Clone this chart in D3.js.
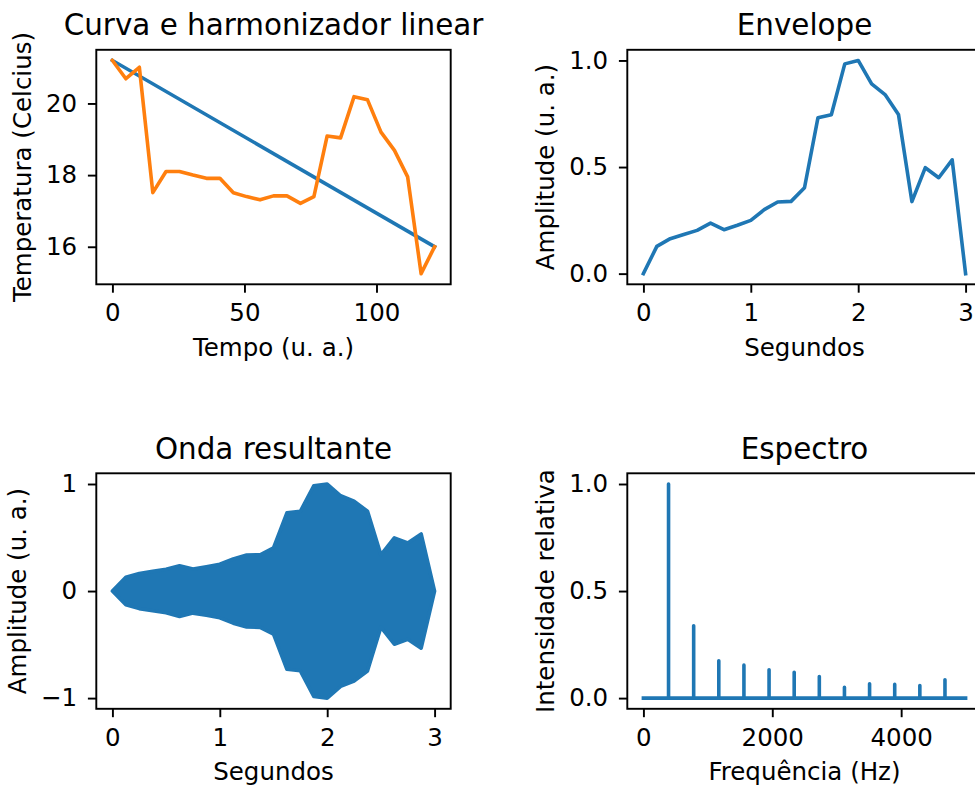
<!DOCTYPE html>
<html><head><meta charset="utf-8">
<script src="https://cdn.jsdelivr.net/npm/d3@7"></script>
<style>html,body{margin:0;padding:0;background:#fff;overflow:hidden}</style>
</head><body>
<svg id="c" width="975" height="787" xmlns="http://www.w3.org/2000/svg"></svg>
<script>
// ---------- data ----------
const tempo = [0, 5.1, 10.2, 15.3, 20.3, 25.4, 30.5, 35.6, 40.7, 45.8, 50.8, 55.9, 61.0, 66.1, 71.2, 76.3, 81.3, 86.4, 91.5, 96.6, 101.7, 106.8, 111.8, 116.9, 122.0];
const temperatura = [21.2, 20.69, 21.01, 17.51, 18.1, 18.1, 18.0, 17.91, 17.91, 17.51, 17.4, 17.31, 17.42, 17.42, 17.21, 17.4, 19.09, 19.04, 20.19, 20.1, 19.2, 18.69, 17.95, 15.25, 16.0];
const ajusteTempo = [0, 122];
const ajusteTemp = [21.2, 16.0];

const segundos = [0, 0.125, 0.25, 0.375, 0.5, 0.625, 0.75, 0.875, 1.0, 1.125, 1.25, 1.375, 1.5, 1.625, 1.75, 1.875, 2.0, 2.125, 2.25, 2.375, 2.5, 2.625, 2.75, 2.875, 3.0];
const envelope = [0, 0.128, 0.164, 0.184, 0.203, 0.237, 0.206, 0.227, 0.25, 0.30, 0.336, 0.339, 0.403, 0.731, 0.745, 0.984, 1.0, 0.89, 0.84, 0.747, 0.338, 0.497, 0.45, 0.534, 0];

const freqPicos = [390, 780, 1170, 1560, 1950, 2340, 2730, 3120, 3510, 3900, 4290, 4680];
const intensPicos = [1.0, 0.338, 0.174, 0.154, 0.132, 0.121, 0.101, 0.051, 0.067, 0.064, 0.059, 0.086];
const freqLimites = [0, 5000];

const ticksTempo = [0, 50, 100];
const ticksTemp = [16, 18, 20];
const ticksSeg = [0, 1, 2, 3];
const ticksAmp = [0, 0.5, 1.0];
const ticksOnda = [-1, 0, 1];
const ticksFreq = [0, 2000, 4000];
const ticksInt = [0, 0.5, 1.0];

// ---------- style ----------
const BLUE = "#1f77b4", ORANGE = "#ff7f0e";
const FONT = "DejaVu Sans";
const S = 2.4; // px per pt
const LW = 1.5 * S, SPINE = 0.8 * S, TICK = 3.5 * S;
const FS = 24.5, TFS = 29.4;

const svg = d3.select("#c");
svg.append("rect").attr("width", 975).attr("height", 787).attr("fill", "#fff");

function pad(lo, hi) { const d = (hi - lo) * 0.05; return [lo - d, hi + d]; }

function panel(r, xd, yd, xt, yt, xf, yf, title, xlabel, ylabel, draw) {
  const g = svg.append("g");
  const x = d3.scaleLinear().domain(xd).range([r.x, r.x + r.w]);
  const y = d3.scaleLinear().domain(yd).range([r.y + r.h, r.y]);
  const clipId = "clip" + Math.random().toString(36).slice(2);
  svg.append("clipPath").attr("id", clipId).append("rect")
    .attr("x", r.x).attr("y", r.y).attr("width", r.w).attr("height", r.h);
  const dg = g.append("g").attr("clip-path", `url(#${clipId})`);
  draw(dg, x, y);
  // spines
  g.append("rect").attr("x", r.x).attr("y", r.y).attr("width", r.w).attr("height", r.h)
    .attr("fill", "none").attr("stroke", "#000").attr("stroke-width", SPINE);
  // axes
  const ax = g.append("g").attr("transform", `translate(0,${r.y + r.h})`)
    .call(d3.axisBottom(x).tickValues(xt).tickFormat(xf).tickSize(TICK).tickPadding(11.2));
  const ay = g.append("g").attr("transform", `translate(${r.x},0)`)
    .call(d3.axisLeft(y).tickValues(yt).tickFormat(yf).tickSize(TICK).tickPadding(10.7));
  [ax, ay].forEach(a => {
    a.select(".domain").remove();
    a.attr("font-family", FONT).attr("font-size", FS);
    a.selectAll("line").attr("stroke", "#000").attr("stroke-width", SPINE);
    a.selectAll("text").attr("fill", "#000");
  });
  // title
  g.append("text").attr("x", r.x + r.w / 2).attr("y", r.y - 6 * S)
    .attr("text-anchor", "middle").attr("font-family", FONT).attr("font-size", TFS)
    .text(title);
  // x label
  g.append("text").attr("x", r.x + r.w / 2).attr("y", r.y + r.h + 71.5)
    .attr("text-anchor", "middle").attr("font-family", FONT).attr("font-size", FS)
    .text(xlabel);
  // y label positioned left of tick labels
  let minX = Infinity;
  ay.selectAll("text").each(function () {
    const b = this.getBBox();
    minX = Math.min(minX, r.x + b.x);
  });
  const bx = minX - 4 * S - 5.2;
  g.append("text").attr("transform", `translate(${bx},${r.y + r.h / 2}) rotate(-90)`)
    .attr("text-anchor", "middle").attr("font-family", FONT).attr("font-size", FS)
    .text(ylabel);
  return g;
}

const TL = { x: 96.3, y: 49.8, w: 354.4, h: 234.5 };
const TR = { x: 627.3, y: 49.8, w: 354.4, h: 234.5 };
const BL = { x: 96.3, y: 473.3, w: 354.4, h: 235.5 };
const BR = { x: 627.3, y: 473.3, w: 354.4, h: 235.5 };

const fmt1 = d3.format(".1f");
const fmt0 = d3.format("d");

// Top-left
const allT = temperatura.concat(ajusteTemp);
panel(TL, pad(d3.min(tempo), d3.max(tempo)), pad(d3.min(allT), d3.max(allT)),
  ticksTempo, ticksTemp, fmt0, fmt0,
  "Curva e harmonizador linear", "Tempo (u. a.)", "Temperatura (Celcius)",
  (g, x, y) => {
    const ln = d3.line().x(d => x(d[0])).y(d => y(d[1]));
    g.append("path").attr("d", ln(d3.zip(ajusteTempo, ajusteTemp)))
      .attr("fill", "none").attr("stroke", BLUE).attr("stroke-width", LW)
      .attr("stroke-linecap", "square").attr("stroke-linejoin", "round");
    g.append("path").attr("d", ln(d3.zip(tempo, temperatura)))
      .attr("fill", "none").attr("stroke", ORANGE).attr("stroke-width", LW)
      .attr("stroke-linecap", "square").attr("stroke-linejoin", "round");
  });

// Top-right
panel(TR, pad(0, 3), pad(d3.min(envelope), d3.max(envelope)),
  ticksSeg, ticksAmp, fmt0, fmt1,
  "Envelope", "Segundos", "Amplitude (u. a.)",
  (g, x, y) => {
    const ln = d3.line().x(d => x(d[0])).y(d => y(d[1]));
    g.append("path").attr("d", ln(d3.zip(segundos, envelope)))
      .attr("fill", "none").attr("stroke", BLUE).attr("stroke-width", LW)
      .attr("stroke-linecap", "square").attr("stroke-linejoin", "round");
  });

// Bottom-left
panel(BL, pad(0, 3), pad(-1, 1),
  ticksSeg, ticksOnda, fmt0, fmt0,
  "Onda resultante", "Segundos", "Amplitude (u. a.)",
  (g, x, y) => {
    const ar = d3.area().x(d => x(d[0])).y0(d => y(-d[1])).y1(d => y(d[1]));
    g.append("path").attr("d", ar(d3.zip(segundos, envelope)))
      .attr("fill", BLUE).attr("stroke", BLUE).attr("stroke-width", LW)
      .attr("stroke-linejoin", "round");
  });

// Bottom-right
panel(BR, pad(freqLimites[0], freqLimites[1]), pad(0, d3.max(intensPicos)),
  ticksFreq, ticksInt, fmt0, fmt1,
  "Espectro", "Frequência (Hz)", "Intensidade relativa",
  (g, x, y) => {
    const pts = [[freqLimites[0], 0]];
    freqPicos.forEach((f, i) => { pts.push([f, 0], [f, intensPicos[i]], [f, 0]); });
    pts.push([freqLimites[1], 0]);
    const ln = d3.line().x(d => x(d[0])).y(d => y(d[1]));
    g.append("path").attr("d", ln(pts))
      .attr("fill", "none").attr("stroke", BLUE).attr("stroke-width", LW)
      .attr("stroke-linecap", "square").attr("stroke-linejoin", "round");
  });
</script>
</body></html>
